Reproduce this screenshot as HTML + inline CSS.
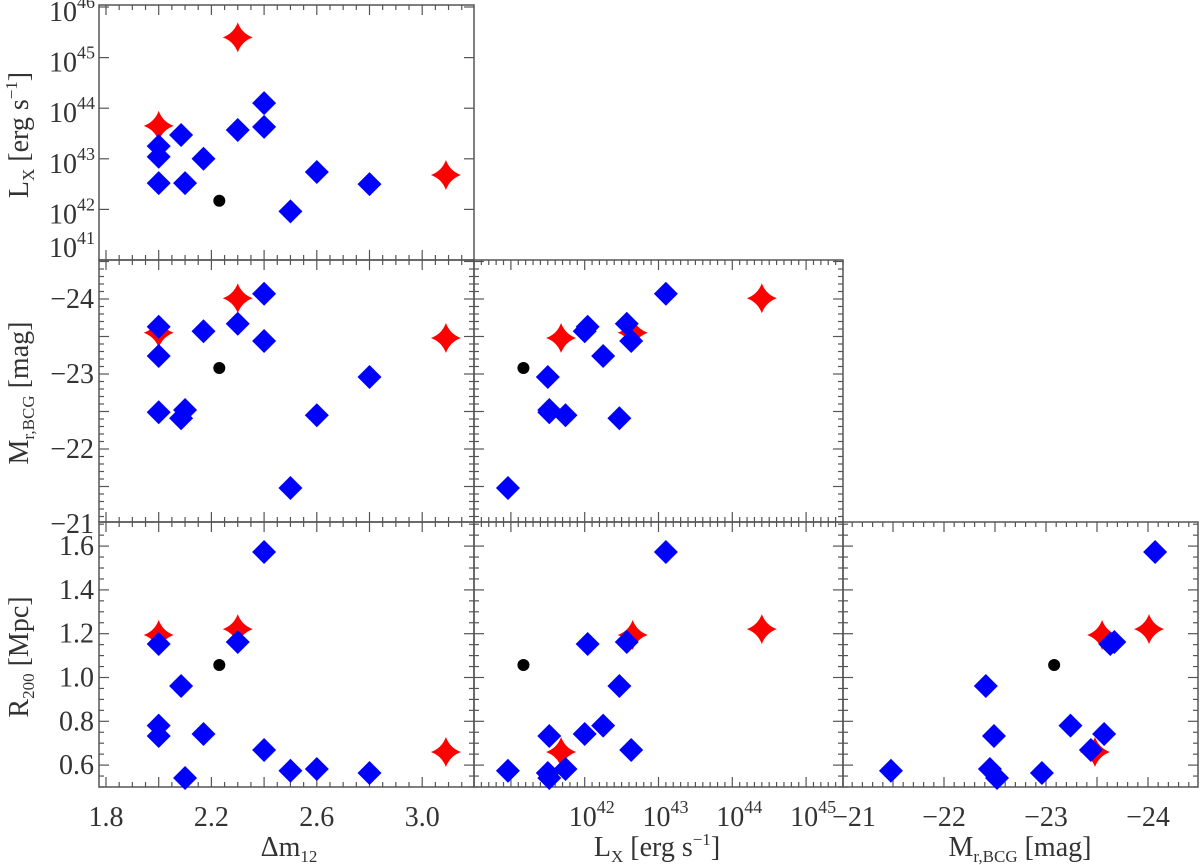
<!DOCTYPE html>
<html><head><meta charset="utf-8">
<style>
html,body{margin:0;padding:0;background:#fff;}
svg{display:block;}
svg text{font-family:"Liberation Serif","DejaVu Serif",serif;}
</style></head>
<body>
<svg id="chart" width="1200" height="865" viewBox="0 0 1200 865" font-family="Liberation Serif, serif"></svg>
<script>
// ---- data (one entry per object) ----
const blueDm  = [2.0, 2.0, 2.0, 2.085, 2.10, 2.17, 2.30, 2.40, 2.40, 2.50, 2.60, 2.80];
const blueLx  = [43.25, 43.04, 42.52, 43.47, 42.52, 43.0, 43.57, 44.10, 43.63, 41.96, 42.74, 42.50];
const blueMr  = [-23.24, -23.63, -22.49, -22.41, -22.52, -23.57, -23.67, -24.07, -23.44, -21.48, -22.45, -22.96];
const blueR   = [0.78, 1.153, 0.733, 0.961, 0.541, 0.742, 1.162, 1.573, 0.669, 0.574, 0.582, 0.564];
const redDm   = [2.0, 2.30, 3.09];
const redLx   = [43.65, 45.40, 42.68];
const redMr   = [-23.55, -24.01, -23.48];
const redR    = [1.194, 1.221, 0.660];
const blackDm = [2.23];
const blackLx = [42.17];
const blackMr = [-23.08];
const blackR  = [1.057];
const dmTickLabels = ["1.8", "2.2", "2.6", "3.0"];
const lxYTickLabels = ["41", "42", "43", "44", "45", "46"];
const lxXTickLabels = ["42", "43", "44", "45"];
const mrTickLabels = ["-21", "-22", "-23", "-24"];
const rTickLabels = ["0.6", "0.8", "1.0", "1.2", "1.4", "1.6"];

// ---- axis functions ----
const C = {x0:99, x1:474, x2:843, x3:1198};
const Rw = {y0:5, y1:260, y2:522, y3:787};
const xDm = v => 106 + (v - 1.8) * 263.5;
const yLx = v => 7 + (46 - v) * 50.6;
const xLx = v => 474 + (v - 41.5) * 73.8;
const yMr = v => 374 + (v + 23) * 75;
const yR  = v => 677.5 - (v - 1) * 219;
const xMr = v => 842 + (-21 - v) * 102;

const NS = "http://www.w3.org/2000/svg";
const svg = document.getElementById("chart");
function mk(tag, attrs, parent){
  const e = document.createElementNS(NS, tag);
  for (const k in attrs) e.setAttribute(k, attrs[k]);
  (parent || svg).appendChild(e);
  return e;
}
const AX = "#555";
const FONT = "Liberation Serif, DejaVu Serif, serif";

const panels = [
  [C.x0, Rw.y0, C.x1, Rw.y1, "panel-lx-vs-dm"],
  [C.x0, Rw.y1, C.x1, Rw.y2, "panel-mr-vs-dm"],
  [C.x1, Rw.y1, C.x2, Rw.y2, "panel-mr-vs-lx"],
  [C.x0, Rw.y2, C.x1, Rw.y3, "panel-r200-vs-dm"],
  [C.x1, Rw.y2, C.x2, Rw.y3, "panel-r200-vs-lx"],
  [C.x2, Rw.y2, C.x3, Rw.y3, "panel-r200-vs-mr"]
];
panels.forEach(p => {
  const r = mk("rect", {x:p[0], y:p[1], width:p[2]-p[0], height:p[3]-p[1], fill:"none", stroke:AX, "stroke-width":1.5});
  
  
});

function xTicks(fn, lo, hi, step, majorEvery, x0, x1, yTop, yBot){
  const g = mk("g", {stroke:AX, "stroke-width":1.2});
  
  
  const n = Math.round((hi - lo) / step);
  for (let i = 0; i <= n; i++){
    const v = lo + i * step, x = fn(v);
    if (x < x0 - 0.5 || x > x1 + 0.5) continue;
    const maj = Math.abs(v / majorEvery - Math.round(v / majorEvery)) < 1e-6;
    const L = maj ? 10 : 5;
    mk("line", {x1:x, x2:x, y1:yBot, y2:yBot - L}, g);
    mk("line", {x1:x, x2:x, y1:yTop, y2:yTop + L}, g);
  }
}
function yTicks(fn, lo, hi, step, majorEvery, y0, y1, xL, xR){
  const g = mk("g", {stroke:AX, "stroke-width":1.2});
  
  
  const n = Math.round((hi - lo) / step);
  for (let i = 0; i <= n; i++){
    const v = lo + i * step, y = fn(v);
    if (y < y0 - 0.5 || y > y1 + 0.5) continue;
    const maj = Math.abs(v / majorEvery - Math.round(v / majorEvery)) < 1e-6;
    const L = maj ? 10 : 5;
    mk("line", {x1:xL, x2:xL + L, y1:y, y2:y}, g);
    mk("line", {x1:xR, x2:xR - L, y1:y, y2:y}, g);
  }
}
[[Rw.y0,Rw.y1],[Rw.y1,Rw.y2],[Rw.y2,Rw.y3]].forEach(r => xTicks(xDm, 1.75, 3.25, 0.05, 0.2, C.x0, C.x1, r[0], r[1]));
[[Rw.y1,Rw.y2],[Rw.y2,Rw.y3]].forEach(r => xTicks(xLx, 41.5, 46.5, 0.1, 1, C.x1, C.x2, r[0], r[1]));
xTicks(v => xMr(-v), 21, 24.5, 0.1, 0.5, C.x2, C.x3, Rw.y2, Rw.y3);
yTicks(yLx, 41, 46, 1, 1, Rw.y0, Rw.y1, C.x0, C.x1);
[[C.x0,C.x1],[C.x1,C.x2]].forEach(c => yTicks(v => yMr(-v), 20.9, 24.6, 0.1, 0.5, Rw.y1, Rw.y2, c[0], c[1]));
[[C.x0,C.x1],[C.x1,C.x2],[C.x2,C.x3]].forEach(c => yTicks(yR, 0.5, 1.75, 0.05, 0.2, Rw.y2, Rw.y3, c[0], c[1]));

// ---- tick labels ----
function txt(x, y, s, anchor, size, name){
  const t = mk("text", {x:x, y:y, "text-anchor":anchor, "font-size":size, fill:"#333", "font-family":FONT});
  t.textContent = s;
  
  
  return t;
}
function pow10(x, y, exp, anchor, name){
  const t = mk("text", {x:x, y:y, "text-anchor":anchor, "font-size":28, fill:"#333", "font-family":FONT});
  
  
  const a = mk("tspan", {}, t); a.textContent = "10";
  const b = mk("tspan", {dy:-13, "font-size":18}, t); b.textContent = exp;
  return t;
}
dmTickLabels.forEach(s => txt(xDm(parseFloat(s)), 826, s, "middle", 28, "x-tick-label-dm"));
lxYTickLabels.forEach(s => {
  const v = parseFloat(s);
  const y = Math.min(yLx(v) + 14, 257);
  pow10(95, y, s, "end", "y-tick-label-lx");
});
lxXTickLabels.forEach(s => pow10(xLx(parseFloat(s) + 1) + 7, 826, s, "middle", "x-tick-label-lx"));
mrTickLabels.forEach(s => txt(94, yMr(parseFloat(s)) + 9, s.replace("-", "\u2212"), "end", 28, "y-tick-label-mr"));
mrTickLabels.forEach(s => txt(xMr(parseFloat(s)) + (s === "-21" ? 12 : 0), 826, s.replace("-", "\u2212"), "middle", 28, "x-tick-label-mr"));
rTickLabels.forEach(s => txt(94, yR(parseFloat(s)) + 9, s, "end", 28, "y-tick-label-r200"));

// ---- axis titles ----
function title(x, y, rot, parts, name){
  const t = mk("text", {x:x, y:y, "text-anchor":"middle", "font-size":28, fill:"#333", "font-family":FONT,
    transform: rot ? `rotate(-90 ${x} ${y})` : ""});
  
  
  parts.forEach(p => {
    const s = mk("tspan", {dy:p[1], "font-size":p[2] || 28}, t);
    s.textContent = p[0];
  });
}
const lxParts = [["L",0],["X",6,17],[" [erg s",-6],["\u22121",-11,17],["]",11]];
const mrParts = [["M",0],["r,BCG",6,17],["  [mag]",-6]];
const rParts = [["R",0],["200",6,17],["  [Mpc]",-6]];
title(28, 135, true, lxParts, "y-axis-title-lx");
title(28, 393, true, mrParts, "y-axis-title-mr");
title(28, 657, true, rParts, "y-axis-title-r200");
title(289, 856, false, [["\u0394m",0],["12",6,17]], "x-axis-title-dm");
title(657, 856, false, lxParts, "x-axis-title-lx");
title(1020, 856, false, mrParts, "x-axis-title-mr");

// ---- markers ----
function diamond(x, y, name){
  const p = mk("polygon", {points:`${x},${y-12} ${x+12},${y} ${x},${y+12} ${x-12},${y}`, fill:"#0000ff"});
  
  
}
function star(x, y, name){
  const a = 15, b = 4;
  const d = `M${x},${y-a} Q${x+b},${y-b} ${x+a},${y} Q${x+b},${y+b} ${x},${y+a} Q${x-b},${y+b} ${x-a},${y} Q${x-b},${y-b} ${x},${y-a}Z`;
  const p = mk("path", {d:d, fill:"#ff0000"});
  
  
}
function dot(x, y, name){
  const c = mk("circle", {cx:x, cy:y, r:6, fill:"#000"});
  
  
}
function drawSet(dm, lx, mr, r, fn, name){
  const combos = [[dm, lx, xDm, yLx], [dm, mr, xDm, yMr], [lx, mr, xLx, yMr],
                  [dm, r, xDm, yR], [lx, r, xLx, yR], [mr, r, xMr, yR]];
  combos.forEach(cb => {
    for (let i = 0; i < cb[0].length; i++) fn(cb[2](cb[0][i]), cb[3](cb[1][i]), name);
  });
}
drawSet(blackDm, blackLx, blackMr, blackR, dot, "black-point");
drawSet(redDm, redLx, redMr, redR, star, "red-star");
drawSet(blueDm, blueLx, blueMr, blueR, diamond, "blue-diamond");
</script>
</body></html>
